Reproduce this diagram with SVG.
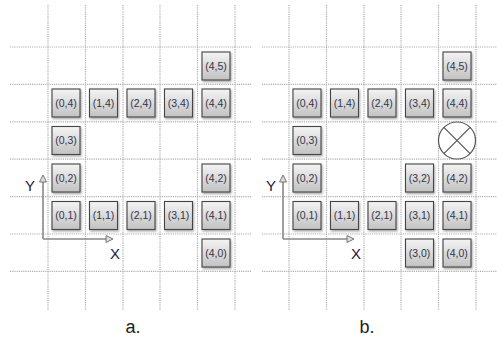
<svg xmlns="http://www.w3.org/2000/svg" width="497" height="341" viewBox="0 0 497 341">
<defs>
<linearGradient id="bg" x1="0" y1="0" x2="0" y2="1">
<stop offset="0" stop-color="#f4f4f4"/>
<stop offset="1" stop-color="#c2c2c2"/>
</linearGradient>
<filter id="sh" x="-20%" y="-20%" width="150%" height="150%">
<feDropShadow dx="1" dy="1.5" stdDeviation="1" flood-color="#000" flood-opacity="0.35"/>
</filter>
<marker id="ah" markerWidth="10" markerHeight="10" refX="7" refY="4" orient="auto" markerUnits="userSpaceOnUse">
<path d="M1,0.5 L8,4 L1,7.5 Z" fill="#ddd" stroke="#777" stroke-width="1"/>
</marker>
</defs>
<style>
.g{stroke:#b0b0b0;stroke-width:1.2;stroke-dasharray:1.2 1;fill:none}
.n rect{fill:url(#bg);stroke:#444;stroke-width:1.1;filter:url(#sh)}
.n text{font-family:"Liberation Sans",Arial,sans-serif;font-size:10.5px;fill:#33344a;text-anchor:middle}
.ax{stroke:#888;stroke-width:1.6;fill:none}
.al{font-family:"Liberation Sans",Arial,sans-serif;font-size:15px;fill:#1c2040;text-anchor:middle}
.cap{font-family:"Liberation Sans",Arial,sans-serif;font-size:18px;fill:#222;text-anchor:middle}
</style>
<rect width="497" height="341" fill="#fff"/>
<g id="grid">
<path class="g" d="M48,5V310M85.5,5V310M123,5V310M160,5V310M197.5,5V310M235,5V310"/>
<path class="g" d="M10,47H252M10,84.4H252M10,121.8H252M10,159.2H252M10,196.6H252M10,234H252M10,271.4H252"/>
<path class="g" d="M289,5V310M326.5,5V310M364,5V310M401,5V310M438.5,5V310M476,5V310"/>
<path class="g" d="M262,47H497M262,84.4H497M262,121.8H497M262,159.2H497M262,196.6H497M262,234H497M262,271.4H497"/>
</g>
<g id="connectors">
<path class="ax" d="M43,239V176" marker-end="url(#ah)"/>
<path class="ax" d="M43,239H112" marker-end="url(#ah)"/>
<path class="ax" d="M283,239V176" marker-end="url(#ah)"/>
<path class="ax" d="M283,239H353" marker-end="url(#ah)"/>
</g>
<g id="axis-labels">
<text class="al" x="30" y="191">Y</text>
<text class="al" x="115" y="259">X</text>
<text class="al" x="271" y="191">Y</text>
<text class="al" x="356" y="259">X</text>
</g>
<g id="a-4-5" class="n"><rect x="202" y="52" width="28" height="28"/><text x="216" y="69.8">(4,5)</text></g>
<g id="a-0-4" class="n"><rect x="52" y="89" width="28" height="28"/><text x="66" y="106.8">(0,4)</text></g>
<g id="a-1-4" class="n"><rect x="89.5" y="89" width="28" height="28"/><text x="103.5" y="106.8">(1,4)</text></g>
<g id="a-2-4" class="n"><rect x="127" y="89" width="28" height="28"/><text x="141" y="106.8">(2,4)</text></g>
<g id="a-3-4" class="n"><rect x="164.5" y="89" width="28" height="28"/><text x="178.5" y="106.8">(3,4)</text></g>
<g id="a-4-4" class="n"><rect x="202" y="89" width="28" height="28"/><text x="216" y="106.8">(4,4)</text></g>
<g id="a-0-3" class="n"><rect x="52" y="126.5" width="28" height="28"/><text x="66" y="144.3">(0,3)</text></g>
<g id="a-0-2" class="n"><rect x="52" y="164" width="28" height="28"/><text x="66" y="181.8">(0,2)</text></g>
<g id="a-4-2" class="n"><rect x="202" y="164" width="28" height="28"/><text x="216" y="181.8">(4,2)</text></g>
<g id="a-0-1" class="n"><rect x="52" y="201.5" width="28" height="28"/><text x="66" y="219.3">(0,1)</text></g>
<g id="a-1-1" class="n"><rect x="89.5" y="201.5" width="28" height="28"/><text x="103.5" y="219.3">(1,1)</text></g>
<g id="a-2-1" class="n"><rect x="127" y="201.5" width="28" height="28"/><text x="141" y="219.3">(2,1)</text></g>
<g id="a-3-1" class="n"><rect x="164.5" y="201.5" width="28" height="28"/><text x="178.5" y="219.3">(3,1)</text></g>
<g id="a-4-1" class="n"><rect x="202" y="201.5" width="28" height="28"/><text x="216" y="219.3">(4,1)</text></g>
<g id="a-4-0" class="n"><rect x="202" y="239" width="28" height="28"/><text x="216" y="256.8">(4,0)</text></g>
<g id="b-4-5" class="n"><rect x="443" y="52" width="28" height="28"/><text x="457" y="69.8">(4,5)</text></g>
<g id="b-0-4" class="n"><rect x="293" y="89" width="28" height="28"/><text x="307" y="106.8">(0,4)</text></g>
<g id="b-1-4" class="n"><rect x="330.5" y="89" width="28" height="28"/><text x="344.5" y="106.8">(1,4)</text></g>
<g id="b-2-4" class="n"><rect x="368" y="89" width="28" height="28"/><text x="382" y="106.8">(2,4)</text></g>
<g id="b-3-4" class="n"><rect x="405.5" y="89" width="28" height="28"/><text x="419.5" y="106.8">(3,4)</text></g>
<g id="b-4-4" class="n"><rect x="443" y="89" width="28" height="28"/><text x="457" y="106.8">(4,4)</text></g>
<g id="b-0-3" class="n"><rect x="293" y="126.5" width="28" height="28"/><text x="307" y="144.3">(0,3)</text></g>
<g id="b-fault">
<circle cx="457" cy="140.5" r="18.5" fill="#fff" stroke="#555" stroke-width="1.2"/>
<path d="M443.9,127.4L470.1,153.6M470.1,127.4L443.9,153.6" stroke="#555" stroke-width="1.2"/>
</g>
<g id="b-0-2" class="n"><rect x="293" y="164" width="28" height="28"/><text x="307" y="181.8">(0,2)</text></g>
<g id="b-3-2" class="n"><rect x="405.5" y="164" width="28" height="28"/><text x="419.5" y="181.8">(3,2)</text></g>
<g id="b-4-2" class="n"><rect x="443" y="164" width="28" height="28"/><text x="457" y="181.8">(4,2)</text></g>
<g id="b-0-1" class="n"><rect x="293" y="201.5" width="28" height="28"/><text x="307" y="219.3">(0,1)</text></g>
<g id="b-1-1" class="n"><rect x="330.5" y="201.5" width="28" height="28"/><text x="344.5" y="219.3">(1,1)</text></g>
<g id="b-2-1" class="n"><rect x="368" y="201.5" width="28" height="28"/><text x="382" y="219.3">(2,1)</text></g>
<g id="b-3-1" class="n"><rect x="405.5" y="201.5" width="28" height="28"/><text x="419.5" y="219.3">(3,1)</text></g>
<g id="b-4-1" class="n"><rect x="443" y="201.5" width="28" height="28"/><text x="457" y="219.3">(4,1)</text></g>
<g id="b-3-0" class="n"><rect x="405.5" y="239" width="28" height="28"/><text x="419.5" y="256.8">(3,0)</text></g>
<g id="b-4-0" class="n"><rect x="443" y="239" width="28" height="28"/><text x="457" y="256.8">(4,0)</text></g>
<g id="captions">
<text class="cap" x="133" y="333">a.</text>
<text class="cap" x="367" y="333">b.</text>
</g>
</svg>
